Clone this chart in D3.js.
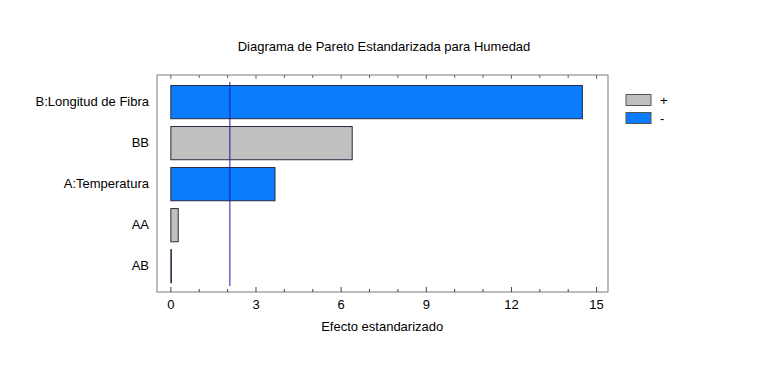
<!DOCTYPE html>
<html>
<head>
<meta charset="utf-8">
<script src="https://cdn.jsdelivr.net/npm/d3@7"></script>
<style>
  body { margin: 0; background: #fff; }
  text { font-family: Arial, "Liberation Sans", sans-serif; fill: #000; }
</style>
</head>
<body>
<div id="chart"></div>
<script>
var w = 766;
var h = 367;

// data
var factors = ["B:Longitud de Fibra", "BB", "A:Temperatura", "AA", "AB"];
var effects = [14.5, 6.39, 3.67, 0.26, 0.02];
var signs = ["-", "+", "-", "+", "+"];
var xTicks = [0, 3, 6, 9, 12, 15];
var critical = 2.08;
var legendLabels = ["+", "-"];

var colors = { "+": "#c0c0c0", "-": "#0a7cfe" };

var svg = d3.select("#chart").append("svg").attr("width", w).attr("height", h);

var frame = { left: 157, right: 608, top: 75, bottom: 292 };

var xScale = d3.scaleLinear()
    .domain([-0.47, 15.42])
    .range([frame.left, frame.right]);

var yScale = d3.scaleBand()
    .domain(factors)
    .range([81.3, 286])
    .paddingInner(0.19)
    .paddingOuter(0.09);

// title
svg.append("text")
    .attr("x", 384)
    .attr("y", 51)
    .attr("text-anchor", "middle")
    .style("font-size", "13px")
    .text("Diagrama de Pareto Estandarizada para Humedad");

// frame
svg.append("rect")
    .attr("x", frame.left)
    .attr("y", frame.top)
    .attr("width", frame.right - frame.left)
    .attr("height", frame.bottom - frame.top)
    .attr("fill", "none")
    .attr("stroke", "#7a7a7a");

// minor ticks every unit, major every 3, bottom and top
var minor = d3.range(0, 16);
svg.append("g").selectAll("line")
    .data(minor)
    .enter().append("line")
    .attr("x1", function (d) { return xScale(d) + 0.5; })
    .attr("x2", function (d) { return xScale(d) + 0.5; })
    .attr("y1", frame.bottom)
    .attr("y2", function (d) { return frame.bottom - (d % 3 === 0 ? 5 : 3); })
    .attr("stroke", "#444");

svg.append("g").selectAll("line")
    .data(minor)
    .enter().append("line")
    .attr("x1", function (d) { return xScale(d) + 0.5; })
    .attr("x2", function (d) { return xScale(d) + 0.5; })
    .attr("y1", frame.top)
    .attr("y2", function (d) { return frame.top + (d % 3 === 0 ? 4 : 3); })
    .attr("stroke", "#666");

// x axis labels
var xAxis = d3.axisBottom(xScale).tickValues(xTicks).tickSize(0).tickPadding(0);
var gx = svg.append("g")
    .attr("transform", "translate(0," + (frame.bottom + 5) + ")")
    .call(xAxis);
gx.select(".domain").remove();
gx.selectAll("text").style("font-size", "13px").attr("dy", "0.9em");

svg.append("text")
    .attr("x", xScale(0) + (xScale(15) - xScale(0)) / 2 - 1)
    .attr("y", 331)
    .attr("text-anchor", "middle")
    .style("font-size", "13px")
    .text("Efecto estandarizado");

// y labels
var yAxis = d3.axisLeft(yScale).tickSize(0).tickPadding(8);
var gy = svg.append("g")
    .attr("transform", "translate(" + frame.left + ",0)")
    .call(yAxis);
gy.select(".domain").remove();
gy.selectAll("text").style("font-size", "13px");

// bars
svg.append("g").selectAll("rect")
    .data(factors)
    .enter().append("rect")
    .attr("x", xScale(0) + 0.5)
    .attr("y", function (d) { return yScale(d) + 0.5; })
    .attr("width", function (d, i) { return Math.max(0, xScale(effects[i]) - xScale(0)); })
    .attr("height", yScale.bandwidth())
    .attr("fill", function (d, i) { return colors[signs[i]]; })
    .attr("stroke", "#2a2a40")
    .attr("stroke-width", 1);

// critical line
svg.append("line")
    .attr("x1", xScale(critical) + 0.5)
    .attr("x2", xScale(critical) + 0.5)
    .attr("y1", 82)
    .attr("y2", 286)
    .attr("stroke", "#1c1ca0")
    .attr("stroke-width", 1);

// legend
var legend = svg.append("g").selectAll("g")
    .data(legendLabels)
    .enter().append("g")
    .attr("transform", function (d, i) { return "translate(626," + (94.5 + i * 18) + ")"; });

legend.append("rect")
    .attr("width", 25)
    .attr("height", 11)
    .attr("fill", function (d) { return colors[d]; })
    .attr("stroke", "#555");

legend.append("text")
    .attr("x", 34)
    .attr("y", 10)
    .style("font-size", "13px")
    .text(function (d) { return d; });
</script>
</body>
</html>
